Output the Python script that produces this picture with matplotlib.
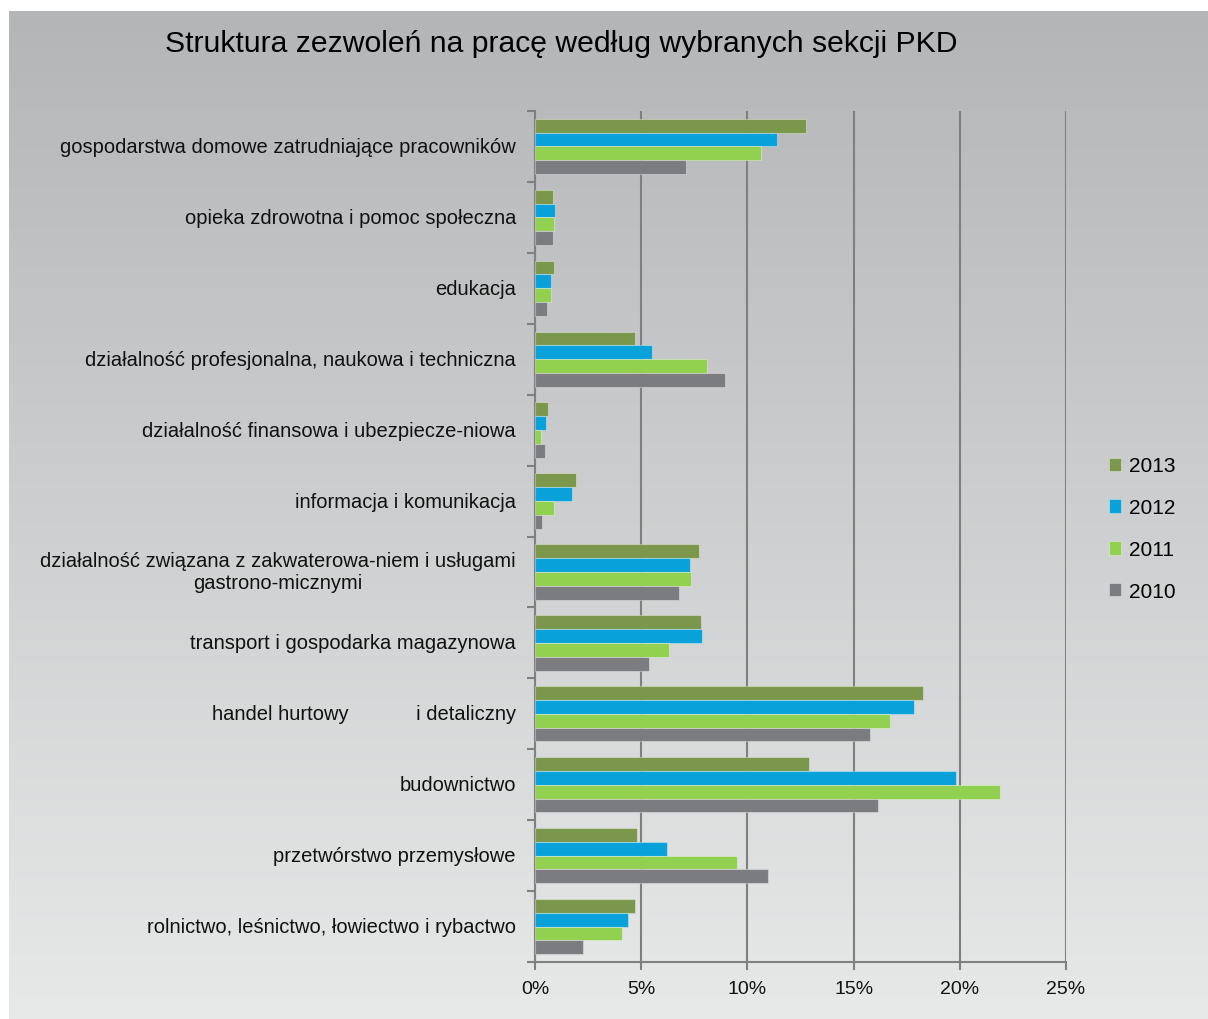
import numpy as np
import matplotlib
matplotlib.use("Agg")
import matplotlib.pyplot as plt
from matplotlib.ticker import PercentFormatter

plt.rcParams['font.family'] = ['Liberation Sans', 'DejaVu Sans']

# kategorie od dołu do góry
kategorie = [
    "rolnictwo, leśnictwo, łowiectwo i rybactwo",
    "przetwórstwo przemysłowe",
    "budownictwo",
    "handel hurtowy            i detaliczny",
    "transport i gospodarka magazynowa",
    "działalność związana z zakwaterowa-niem i usługami\ngastrono-micznymi",
    "informacja i komunikacja",
    "działalność finansowa i ubezpiecze-niowa",
    "działalność profesjonalna, naukowa i techniczna",
    "edukacja",
    "opieka zdrowotna i pomoc społeczna",
    "gospodarstwa domowe zatrudniające pracowników",
]

lata = ["2013", "2012", "2011", "2010"]
kolory = ["#7a974b", "#08a1da", "#92d050", "#7b7c80"]

w2013 = [4.69, 4.82, 12.89, 18.28, 7.82, 7.71, 1.91, 0.63, 4.70, 0.89, 0.85, 12.76]
w2012 = [4.38, 6.20, 19.80, 17.86, 7.85, 7.32, 1.72, 0.53, 5.50, 0.77, 0.96, 11.41]
w2011 = [4.10, 9.50, 21.90, 16.72, 6.32, 7.35, 0.88, 0.30, 8.10, 0.77, 0.91, 10.66]
w2010 = [2.25, 10.99, 16.15, 15.76, 5.38, 6.77, 0.33, 0.45, 8.94, 0.55, 0.83, 7.13]
serie = [w2013, w2012, w2011, w2010]

fig = plt.figure(figsize=(12.08, 10.2), dpi=100)

# tło z gradientem
bg = fig.add_axes([0.0075, 0, 0.9925, 0.988])
grad = np.linspace(0, 1, 256).reshape(-1, 1)
cmap = matplotlib.colors.LinearSegmentedColormap.from_list("g", ["#e7e8e8", "#b4b5b7"])
bg.imshow(grad, aspect='auto', cmap=cmap, origin='lower', extent=[0, 1, 0, 1])
bg.axis('off')

ax = fig.add_axes([535 / 1208, 1 - 963 / 1020, (1066 - 535) / 1208, (963 - 112) / 1020])
ax.patch.set_alpha(0)

y = np.arange(len(kategorie))
h = 0.195
for i, (rok, vals, c) in enumerate(zip(lata, serie, kolory)):
    off = (1.5 - i) * h
    ax.barh(y + off, vals, height=h, color=c, label=rok, zorder=3,
            edgecolor=(1, 1, 1, 0.35), linewidth=0.8)

ax.set_xlim(0, 25)
ax.set_ylim(-0.5, len(kategorie) - 0.5)
ax.set_xticks(np.arange(0, 26, 5))
ax.xaxis.set_major_formatter(PercentFormatter(decimals=0))
ax.set_yticks(np.arange(-0.5, len(kategorie), 1))
ax.set_yticklabels([])
ax.tick_params(axis='y', length=6, color='#808080', width=1.5)
ax.tick_params(axis='x', length=6, color='#808080', width=1.5, labelsize=14, pad=7,
               labelcolor='#111111')
for yi, lab in zip(y, kategorie):
    ax.text(-0.9, yi, lab, ha='right', va='center', fontsize=14.5, color='#111111',
            multialignment='center' if '\n' in lab else 'right')

ax.grid(axis='x', color='#7f7f7f', linewidth=1.5, zorder=0)
for s in ['top', 'right']:
    ax.spines[s].set_visible(False)
for s in ['left', 'bottom']:
    ax.spines[s].set_color('#808080')
    ax.spines[s].set_linewidth(1.5)

ax.legend(loc='center left', bbox_to_anchor=(1.045, 0.509), frameon=False,
          fontsize=15, handlelength=0.6, handleheight=0.6, labelspacing=1.1,
          handletextpad=0.4)

fig.text(165 / 1208, 1 - 44 / 1020, "Struktura zezwoleń na pracę według wybranych sekcji PKD",
         fontsize=21.7, va='center', ha='left', color='#000000')

fig.savefig("out.png", dpi=100)
